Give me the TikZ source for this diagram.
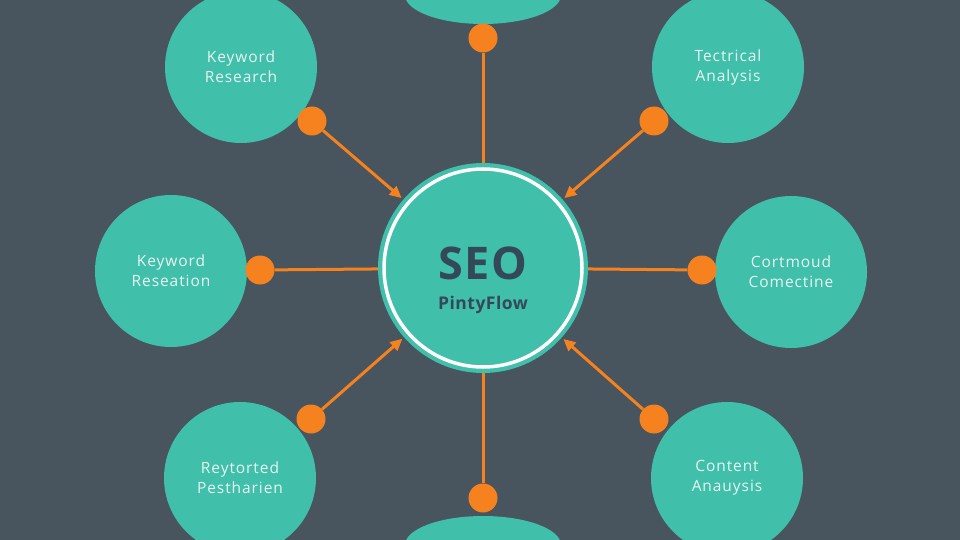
\documentclass[tikz,border=0pt]{standalone}
\usepackage{fontspec}
\setmainfont{Open Sans}
\newfontfamily\satfont[LetterSpace=6]{Open Sans}
\newfontfamily\seofont[LetterSpace=3]{Open Sans}
\usetikzlibrary{arrows.meta,shapes.geometric}
\definecolor{bgslate}{HTML}{48545E}
\definecolor{seoTeal}{HTML}{40BFAB}
\definecolor{org}{HTML}{F5821F}
\definecolor{darktxt}{HTML}{33495A}
\definecolor{lbl}{HTML}{E9F6F3}
\begin{document}
\begin{tikzpicture}[x=1pt,y=-1pt,
  sat/.style={circle,fill=seoTeal,minimum size=152pt,inner sep=0pt,align=center,text=lbl,font=\satfont\fontsize{15.5}{20}\selectfont},
  edge/.style={ellipse,fill=seoTeal,minimum width=156pt,minimum height=58pt,inner sep=0pt},
  dot/.style={circle,fill=org,minimum size=29pt,inner sep=0pt},
  link/.style={draw=org,line width=3pt},
  arr/.style={link,-{Triangle[length=12pt,width=11pt]},shorten >=2pt}]
\useasboundingbox (0,0) rectangle (960,540);
\fill[bgslate] (0,0) rectangle (960,540);
\begin{scope}
\clip (0,0) rectangle (960,540);
% satellites
\node[edge] (stop) at (483,-5) {};
\node[edge] (sbot) at (483,545) {};
\node[sat] (stl) at (241,67) {Keyword\\Research};
\node[sat] (str) at (728,67) {Tectrical\\Analysis};
\node[sat] (sl) at (171,271) {Keyword\\Reseation};
\node[sat] (sr) at (791,272) {Cortmoud\\Comectine};
\node[sat] (sbl) at (240,478) {Reytorted\\Pestharien};
\node[sat] (sbr) at (727,478) {Content\\Anauysis};
% centre
\node[circle,fill=seoTeal,minimum size=210pt,inner sep=0pt] (seo) at (483,268) {};
\draw[white,line width=3.5pt] (seo.center) circle (99);
\node[text=darktxt,font=\seofont\fontsize{45}{45}\selectfont\bfseries] (seotxt) at (483,263) {SEO};
\node[text=darktxt,font=\seofont\fontsize{17.5}{20}\selectfont\bfseries] (flow) at (483,305) {PintyFlow};
% dots
\node[dot] (dtop) at (483,38) {};
\node[dot] (dbot) at (483,498) {};
\node[dot] (dl) at (260,270) {};
\node[dot] (dr) at (702,270) {};
\node[dot] (dtl) at (312,121) {};
\node[dot] (dtr) at (654,121) {};
\node[dot] (dbl) at (311,419) {};
\node[dot] (dbr) at (654,419) {};
% connectors
\draw[link] (dtop) -- (seo);
\draw[link] (dbot) -- (seo);
\draw[link] (dl) -- (seo);
\draw[link] (dr) -- (seo);
\draw[arr] (dtl) -- (seo);
\draw[arr] (dtr) -- (seo);
\draw[arr] (dbl) -- (seo);
\draw[arr] (dbr) -- (seo);
\end{scope}
\end{tikzpicture}
\end{document}
